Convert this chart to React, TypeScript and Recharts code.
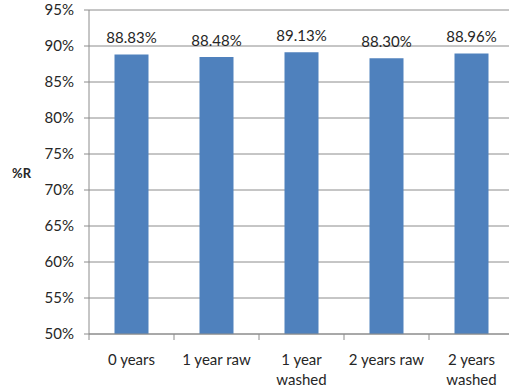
import { BarChart, Bar, XAxis, YAxis, CartesianGrid, LabelList } from "recharts";

const categories = ["0 years", "1 year raw", "1 year\nwashed", "2 years raw", "2 years\nwashed"];
const reflectance = [88.83, 88.48, 89.13, 88.3, 88.96];
const yTicks = [50, 55, 60, 65, 70, 75, 80, 85, 90, 95];

const data = categories.map((name, i) => ({ name, value: reflectance[i] }));

const FONT = "Lato, 'Open Sans', sans-serif";
const TEXT = "#262626";
const GRID = "#8c8c8c";

const CategoryTick = (props: any) => {
  const { x, y, payload, index, width, visibleTicksCount } = props;
  const band = width / visibleTicksCount;
  const lines = String(payload.value).split("\n");
  const left = x - band / 2;
  return (
    <g>
      <line x1={left} y1={y} x2={left} y2={y + 6} stroke={GRID} />
      {index === visibleTicksCount - 1 && (
        <line x1={left + band} y1={y} x2={left + band} y2={y + 6} stroke={GRID} />
      )}
      <text x={x} y={y} textAnchor="middle" fill={TEXT} fontSize={15} fontFamily={FONT}>
        {lines.map((l, i) => (
          <tspan key={i} x={x} dy={i === 0 ? 31 : 20}>
            {l}
          </tspan>
        ))}
      </text>
    </g>
  );
};

export default function App() {
  return (
    <div style={{ position: "absolute", left: 0, top: 0, width: 509, height: 390, overflow: "hidden", background: "#fff" }}>
      <BarChart
        width={514}
        height={390}
        data={data}
        margin={{ top: 10, right: 0, bottom: 0, left: 0 }}
        barCategoryGap="30%"
      >
        <CartesianGrid vertical={false} stroke={GRID} />
        <XAxis
          dataKey="name"
          height={56}
          interval={0}
          tickLine={false}
          tickSize={0}
          tickMargin={0}
          axisLine={{ stroke: GRID }}
          tick={<CategoryTick />}
        />
        <YAxis
          width={89}
          domain={[50, 95]}
          ticks={yTicks}
          interval={0}
          allowDataOverflow
          tickFormatter={(v: number) => `${v}%`}
          tickSize={5}
          tickMargin={10}
          axisLine={{ stroke: GRID }}
          tickLine={{ stroke: GRID }}
          tick={{ fill: TEXT, fontSize: 15, fontFamily: FONT }}
          label={{
            value: "%R",
            position: "insideTopLeft",
            dx: 7,
            dy: 154,
            fill: TEXT,
            fontSize: 13,
            fontWeight: "bold",
            fontFamily: FONT,
          }}
        />
        <Bar dataKey="value" fill="#4f81bd" isAnimationActive={false}>
          <LabelList
            dataKey="value"
            position="top"
            offset={11}
            formatter={(v: any) => `${Number(v).toFixed(2)}%`}
            fill={TEXT}
            fontSize={15}
            fontFamily={FONT}
          />
        </Bar>
      </BarChart>
    </div>
  );
}
